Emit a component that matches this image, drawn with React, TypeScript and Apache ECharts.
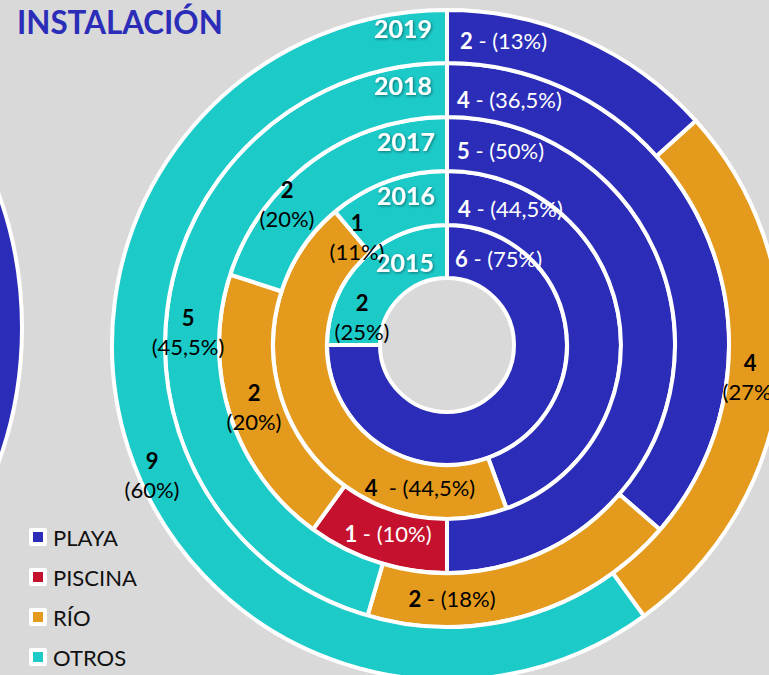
import React, { useEffect, useRef } from 'react';
import * as echarts from 'echarts';

const TITLE = 'INSTALACIÓN';
const YEARS = ['2015', '2016', '2017', '2018', '2019'];
const CATEGORIES = ['PLAYA', 'PISCINA', 'RÍO', 'OTROS'];
const PLAYA = [6, 4, 5, 4, 2];
const PISCINA = [0, 0, 1, 0, 0];
const RIO = [0, 4, 2, 2, 4];
const OTROS = [2, 1, 2, 5, 9];
const PLAYA_PCT = ['75%', '44,5%', '50%', '36,5%', '13%'];
const PISCINA_PCT = ['', '', '10%', '', ''];
const RIO_PCT = ['', '44,5%', '20%', '18%', '27%'];
const OTROS_PCT = ['25%', '11%', '20%', '45,5%', '60%'];

const VALUES = [PLAYA, PISCINA, RIO, OTROS];
const PCTS = [PLAYA_PCT, PISCINA_PCT, RIO_PCT, OTROS_PCT];

const COLORS = ['#2B2DB8', '#C5112E', '#E49A1C', '#1CCAC8'];
const LABEL_COLORS = ['#fff', '#fff', '#000', '#000'];
const BG = '#D9D9D9';
const FONT = 'Lato';
const CX = 447;
const CY = 345;
const RADII = [67, 120, 174, 228, 282, 335];

// label placement offsets from the centre: [dx, dy, align, stacked, gap]
const LABEL_LAYOUT: Record<string, [number, number, string, boolean, string]> = {
  '2015-PLAYA': [8, -87, 'left', false, ' '],
  '2015-OTROS': [-85, -28, 'center', true, ''],
  '2016-PLAYA': [11, -137, 'left', false, ' '],
  '2016-RÍO': [-27, 142, 'center', false, '  '],
  '2016-OTROS': [-90, -108, 'center', true, ''],
  '2017-PLAYA': [10, -195, 'left', false, ' '],
  '2017-PISCINA': [-59, 188, 'center', false, ' '],
  '2017-RÍO': [-193, 62, 'center', true, ''],
  '2017-OTROS': [-160, -141, 'center', true, ''],
  '2018-PLAYA': [10, -246, 'left', false, ' '],
  '2018-RÍO': [5, 253, 'center', false, ' '],
  '2018-OTROS': [-259, -13, 'center', true, ''],
  '2019-PLAYA': [13, -305, 'left', false, ' '],
  '2019-RÍO': [303, 32, 'center', true, ''],
  '2019-OTROS': [-295, 130, 'center', true, ''],
};

// year label anchors (right edge x, centre y)
const YEAR_POS = [
  [434, 262],
  [435, 195],
  [435, 141],
  [432, 85],
  [432, 28],
];

export default function App() {
  const ref = useRef<HTMLDivElement>(null);

  useEffect(() => {
    if (!ref.current) return;
    const chart = echarts.init(ref.current, undefined, { renderer: 'svg' });
    const keys: string[][] = [];

    const series = YEARS.map((year, yi) => {
      const k: string[] = [];
      const data: any[] = [];
      CATEGORIES.forEach((cat, ci) => {
        const v = VALUES[ci][yi];
        if (!v) return;
        const key = `${year}-${cat}`;
        k.push(key);
        const L = LABEL_LAYOUT[key];
        const pct = PCTS[ci][yi];
        const color = LABEL_COLORS[ci];
        const formatter = L && L[3]
          ? `{v|${v}}\n{p|(${pct})}`
          : `{v|${v}}{p|${L ? L[4] : ' '}- (${pct})}`;
        data.push({
          name: cat,
          value: v,
          itemStyle: { color: COLORS[ci] },
          label: {
            formatter,
            color,
            rich: {
              v: { fontFamily: FONT, fontSize: 22, fontWeight: 'bold', color, lineHeight: 29 },
              p: { fontFamily: FONT, fontSize: 22, fontWeight: 'normal', color, lineHeight: 29 },
            },
          },
        });
      });
      keys.push(k);
      return {
        type: 'pie',
        name: year,
        center: [CX, CY],
        radius: [RADII[yi], RADII[yi + 1]],
        startAngle: 90,
        clockwise: true,
        silent: true,
        avoidLabelOverlap: false,
        itemStyle: { borderColor: '#fff', borderWidth: 4 },
        label: { show: true, position: 'inside', fontFamily: FONT, fontSize: 22 },
        labelLine: { show: false },
        emphasis: { disabled: true },
        labelLayout: (params: any) => {
          const key = keys[params.seriesIndex]?.[params.dataIndex];
          const L = key ? LABEL_LAYOUT[key] : undefined;
          if (!L) return {};
          return { x: CX + L[0], y: CY + L[1], align: L[2], verticalAlign: 'middle' };
        },
        data,
      };
    });

    const graphics: any[] = [
      {
        type: 'circle',
        z: -10,
        shape: { cx: -373, cy: 328, r: 395 },
        style: { fill: COLORS[0], stroke: '#fff', lineWidth: 4 },
      },
      {
        type: 'text',
        z: 100,
        x: 17,
        y: 21,
        scaleX: 0.95,
        style: {
          text: TITLE,
          fill: COLORS[0],
          fontFamily: FONT,
          fontSize: 33,
          fontWeight: 'bold',
          align: 'left',
          verticalAlign: 'middle',
        },
      },
      ...YEARS.map((y, i) => ({
        type: 'text',
        z: 100,
        x: YEAR_POS[i][0],
        y: YEAR_POS[i][1],
        style: {
          text: y,
          fill: '#fff',
          fontFamily: FONT,
          fontSize: 25,
          fontWeight: 'bold',
          align: 'right',
          verticalAlign: 'middle',
          textShadowColor: 'rgba(0,0,0,0.45)',
          textShadowBlur: 3,
          textShadowOffsetX: 1,
          textShadowOffsetY: 1,
        },
      })),
    ];

    chart.setOption({
      animation: false,
      backgroundColor: BG,
      legend: {
        orient: 'vertical',
        left: 29,
        top: 526,
        height: 148,
        padding: 0,
        itemWidth: 14,
        itemHeight: 14,
        itemGap: 18,
        icon: 'rect',
        selectedMode: false,
        itemStyle: { borderColor: '#fff', borderWidth: 4 },
        textStyle: { fontFamily: FONT, fontSize: 22, color: '#111', padding: [0, 0, 0, 3] },
        data: CATEGORIES,
      },
      graphic: graphics,
      series,
    });

    return () => chart.dispose();
  }, []);

  return (
    <div
      ref={ref}
      style={{ position: 'fixed', left: 0, top: 0, width: 769, height: 675 }}
    />
  );
}
